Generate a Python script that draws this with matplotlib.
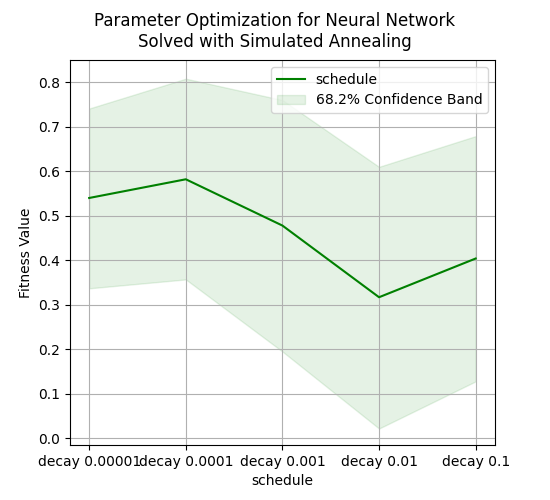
import matplotlib
matplotlib.use("Agg")
import matplotlib.pyplot as plt

schedules = ["decay 0.00001", "decay 0.0001", "decay 0.001", "decay 0.01", "decay 0.1"]
fitness = [0.540, 0.582, 0.478, 0.317, 0.404]
upper = [0.741, 0.808, 0.760, 0.610, 0.679]
lower = [0.337, 0.357, 0.195, 0.022, 0.128]

fig = plt.figure(figsize=(5.5, 5), dpi=100)
ax = fig.add_axes([0.127, 0.11, 0.773, 0.77])
x = range(len(schedules))
ax.plot(x, fitness, color="green", label="schedule")
ax.fill_between(x, lower, upper, color="green", alpha=0.1, label="68.2% Confidence Band")
ax.set_xticks(list(x))
ax.set_xticklabels(schedules)
ax.set_ylim(-0.015, 0.85)
ax.set_xlim(-0.2, 4.2)
ax.set_yticks([0.0, 0.1, 0.2, 0.3, 0.4, 0.5, 0.6, 0.7, 0.8])
ax.grid(True)
ax.set_xlabel("schedule")
ax.set_ylabel("Fitness Value")
ax.legend(loc="upper right")
fig.suptitle("Parameter Optimization for Neural Network\nSolved with Simulated Annealing", y=0.975)
fig.savefig("out.png")
